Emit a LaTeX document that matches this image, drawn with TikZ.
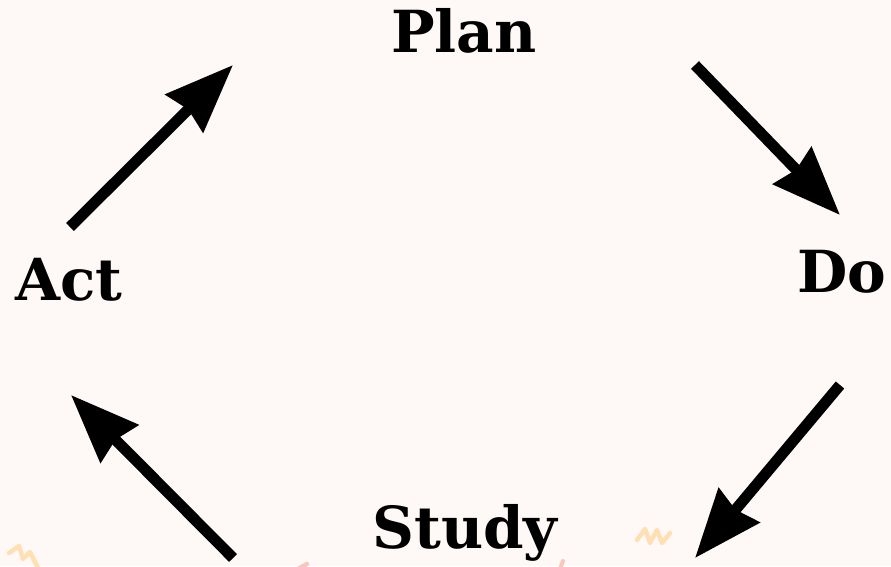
\documentclass[tikz,border=0pt]{standalone}
\usepackage{fontspec}
\setmainfont{DejaVu Serif}
\usetikzlibrary{arrows.meta}
\definecolor{fond}{RGB}{254,249,246}
\definecolor{orangepale}{RGB}{255,224,180}
\definecolor{rosepale}{RGB}{248,200,192}

\begin{document}
\begin{tikzpicture}[x=1pt, y=-1pt,
		etape/.style={anchor=base, inner sep=0pt, font=\fontsize{58}{60}\selectfont\bfseries},
		fleche/.style={-{Stealth[length=68pt, width=52pt, inset=5pt]}, line width=11pt}]
		
		% Fond
		\fill[fond] (0,0) rectangle (891,566);
		\useasboundingbox (0,0) rectangle (891,566);
		
		% Étapes du cycle
		\node[etape] (plan) at (464,52) {Plan};
		\node[etape] (do) at (842,292) {Do};
		\node[etape] (study) at (465,548) {Study};
		\node[etape] (act) at (69,300) {Act};
		
		% Extrémités des flèches
		\coordinate (p1) at (695,65);
		\coordinate (d0) at (840,215);
		\coordinate (d1) at (840,385);
		\coordinate (s0) at (695,558);
		\coordinate (s1) at (233,558);
		\coordinate (a0) at (71,395);
		\coordinate (a1) at (70,227);
		\coordinate (p0) at (233,65);
		
		% Flèches
		\draw[fleche] (p1) -- (d0);
		\draw[fleche] (d1) -- (s0);
		\draw[fleche] (s1) -- (a0);
		\draw[fleche] (a1) -- (p0);
		
		% Petits gribouillis en bas
		\draw[orangepale, line width=4.5pt, line cap=round, line join=round]
			(9,553) -- (19,546) -- (23,559) -- (30,552) -- (38,568);
		\draw[orangepale, line width=4.5pt, line cap=round, line join=round]
			(637,540) -- (645,529) -- (650,543) -- (657,530) -- (662,543) -- (670,533);
		\draw[rosepale, line width=4.5pt, line cap=round] (298,569) -- (307,564);
		\draw[rosepale, line width=4pt, line cap=round] (560,569) -- (563,561);
		
	\end{tikzpicture}
\end{document}
